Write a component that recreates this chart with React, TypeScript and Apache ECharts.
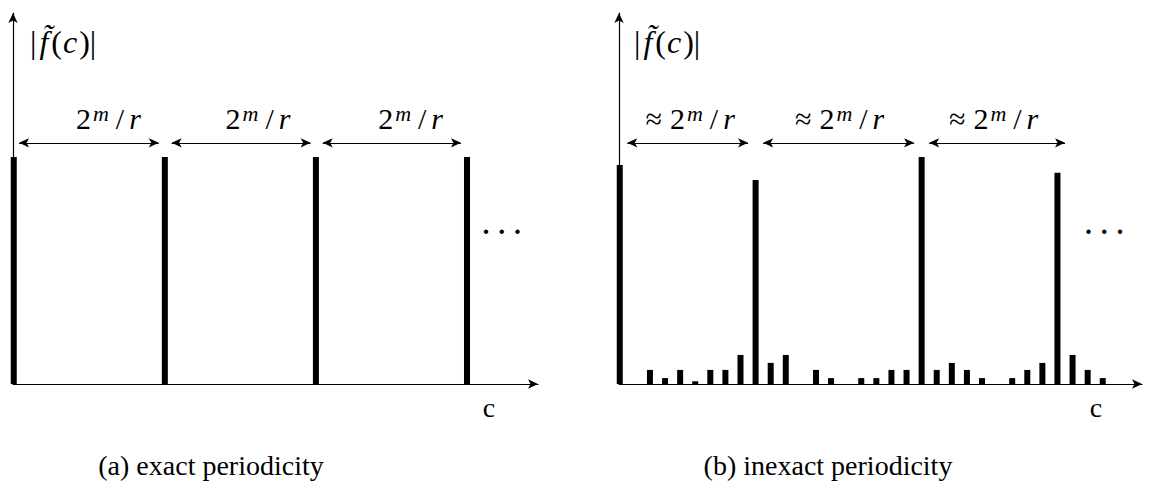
import React, { useEffect, useRef } from "react";
import * as echarts from "echarts";

// ---- data (amplitudes normalised so that a full peak = 1) ----
const leftPeakC = [0, 10, 20, 30];
const leftPeakAmp = [1, 1, 1, 1];
const rightAmp = [
  0.965, 0, 0.062, 0.026, 0.062, 0.012, 0.062, 0.062, 0.128, 0.899, 0.093,
  0.128, 0, 0.062, 0.026, 0, 0.026, 0.026, 0.062, 0.062, 1.0, 0.062, 0.093,
  0.062, 0.026, 0, 0.026, 0.062, 0.093, 0.93, 0.128, 0.062, 0.026,
];
const leftSpans = [
  [0.35, 9.6],
  [10.45, 19.65],
  [20.45, 29.6],
];
const rightSpans = [
  [0.5, 8.5],
  [9.5, 19.5],
  [20.5, 29.5],
];
const leftLabelC = [6.3, 16.2, 26.3];
const rightLabelC = [4.7, 14.6, 24.8];
const leftLabel = "{n|2}{s|m}{sl|/}{i|r}";
const rightLabel = "{a|≈}{n|2}{s|m}{sl|/}{i|r}";
const yName = "{n||}{f|f\u0303}{n|(}{i|c}{n|)|}";
const xName = "c";
const captions = ["(a) exact periodicity", "(b) inexact periodicity"];
const dots = "· · ·";

const ARROW_Y = 1.062;
const LABEL_Y = 1.17;
const DOTS_Y = 0.67;

const FONT = "Liberation Serif";

const rich = {
  n: { fontFamily: FONT, fontSize: 30, color: "#000" },
  a: { fontFamily: FONT, fontSize: 30, color: "#000", padding: [0, 8, 0, 0] },
  i: { fontFamily: FONT, fontSize: 30, fontStyle: "italic", color: "#000", padding: [0, 1, 0, 1] },
  sl: { fontFamily: FONT, fontSize: 30, color: "#000", padding: [0, 4, 0, 4] },
  s: { fontFamily: FONT, fontSize: 22, fontStyle: "italic", color: "#000", verticalAlign: "top", padding: [0, 3, 9, 2] },
};

function buildSeries(data: number[][], spans: number[][], labelC: number[], label: string, dotsC: number, idx: number) {
  return {
    type: "bar",
    xAxisIndex: idx,
    yAxisIndex: idx,
    data,
    barWidth: 6,
    clip: false,
    silent: true,
    itemStyle: { color: "#000" },
    markLine: {
      silent: true,
      symbol: ["arrow", "arrow"],
      symbolSize: [7, 10],
      label: { show: false },
      lineStyle: { color: "#000", width: 1.2, type: "solid" },
      emphasis: { disabled: true },
      data: spans.map(([a, b]) => [{ coord: [a, ARROW_Y] }, { coord: [b, ARROW_Y] }]),
    },
    markPoint: {
      silent: true,
      symbol: "circle",
      symbolSize: 1,
      itemStyle: { color: "rgba(0,0,0,0)" },
      data: [
        ...labelC.map((c) => ({
          coord: [c, LABEL_Y],
          label: { show: true, position: "inside", formatter: label, fontFamily: FONT, rich },
        })),
        {
          coord: [dotsC, DOTS_Y],
          label: {
            show: true,
            position: "inside",
            formatter: dots,
            fontFamily: FONT,
            fontSize: 27,
            fontWeight: "bold",
            color: "#000",
          },
        },
      ],
    },
  };
}

function axisLine() {
  return {
    show: true,
    onZero: false,
    symbol: ["none", "arrow"],
    symbolSize: [7, 10],
    lineStyle: { color: "#000", width: 1.2 },
  };
}

const yRich = {
  n: { fontFamily: FONT, fontSize: 32, color: "#000" },
  f: { fontFamily: FONT, fontSize: 32, fontStyle: "italic", color: "#000", padding: [0, 3, 0, 3] },
  i: { fontFamily: FONT, fontSize: 32, fontStyle: "italic", color: "#000", padding: [0, 2, 0, 1] },
};

export default function App() {
  const ref = useRef<HTMLDivElement>(null);
  useEffect(() => {
    if (!ref.current) return;
    const chart = echarts.init(ref.current, null, { renderer: "svg" });
    const xAx = (gi: number, max: number) => ({
      type: "value",
      gridIndex: gi,
      min: -0.05,
      max,
      axisLine: axisLine(),
      axisTick: { show: false },
      axisLabel: { show: false },
      splitLine: { show: false },
    });
    const yAx = (gi: number) => ({
      type: "value",
      gridIndex: gi,
      min: 0,
      max: 1.634,
      axisLine: axisLine(),
      axisTick: { show: false },
      axisLabel: { show: false },
      splitLine: { show: false },
    });
    const txt = (x: number, y: number, text: string) => ({
      type: "text",
      x,
      y,
      style: {
        text,
        fontFamily: FONT,
        fontSize: 28,
        fill: "#000",
        align: "center",
        verticalAlign: "middle",
      },
    });
    chart.setOption({
      animation: false,
      backgroundColor: "#fff",
      textStyle: { fontFamily: FONT },
      grid: [
        { left: 13, top: 13, width: 525, height: 371 },
        { left: 619, top: 13, width: 523, height: 371 },
      ],
      xAxis: [xAx(0, 34.7), xAx(1, 34.6)],
      yAxis: [yAx(0), yAx(1)],
      series: [
        buildSeries(leftPeakC.map((c, i) => [c, leftPeakAmp[i]]), leftSpans, leftLabelC, leftLabel, 32.3, 0),
        buildSeries(rightAmp.map((v, i) => [i, v]), rightSpans, rightLabelC, rightLabel, 32.1, 1),
      ],
      graphic: [
        { type: "text", x: 30, y: 26, style: { text: yName, fontFamily: FONT, rich: yRich } },
        { type: "text", x: 634, y: 26, style: { text: yName, fontFamily: FONT, rich: yRich } },
        txt(489, 407, xName),
        txt(1096, 407, xName),
        txt(211, 465, captions[0]),
        txt(828, 465, captions[1]),
      ],
    });
    return () => chart.dispose();
  }, []);
  return (
    <div
      ref={ref}
      style={{ position: "absolute", left: 0, top: 0, width: 1154, height: 485, background: "#fff" }}
    />
  );
}
